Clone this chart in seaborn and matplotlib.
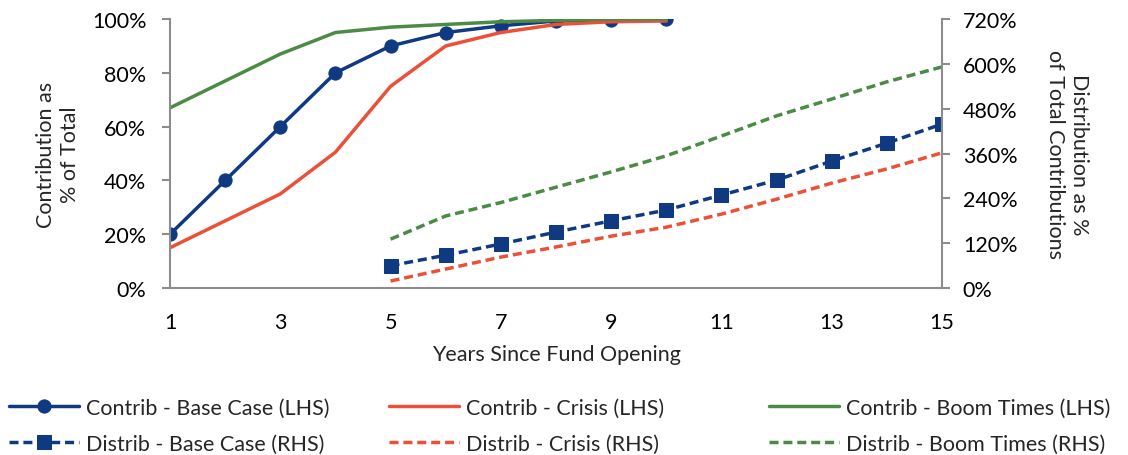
import numpy as np
import pandas as pd
import matplotlib
matplotlib.use("Agg")
import matplotlib.pyplot as plt
import seaborn as sns
from matplotlib.ticker import FuncFormatter

# --- data ---
contrib_years = [1, 2, 3, 4, 5, 6, 7, 8, 9, 10]
contrib_base = [20, 40, 60, 80, 90, 95, 97.5, 99.3, 99.7, 100]
contrib_crisis = [15, 25, 35, 50.5, 75, 90, 95, 98, 99, 99.3]
contrib_boom = [67, 77, 87, 95, 97, 98, 99, 99.5, 100, 100]

distrib_years = [5, 6, 7, 8, 9, 10, 11, 12, 13, 14, 15]
distrib_base = [60, 88, 118, 150, 180, 209, 249, 289, 340, 388, 439]
distrib_crisis = [19, 51, 83, 110, 139, 163, 198, 238, 281, 319, 362]
distrib_boom = [131, 193, 229, 270, 311, 354, 407, 461, 506, 552, 592]

x_ticks = [1, 3, 5, 7, 9, 11, 13, 15]

NAVY = "#0F3A82"
RED = "#EA5138"
GREEN = "#4B8B46"
GREY = "#8C8C8C"
FS = 15.5

sns.set_style("white")
plt.rcParams["font.family"] = ["Lato", "DejaVu Sans"]

contrib = pd.DataFrame({"year": contrib_years, "base": contrib_base,
                        "crisis": contrib_crisis, "boom": contrib_boom})
distrib = pd.DataFrame({"year": distrib_years, "base": distrib_base,
                        "crisis": distrib_crisis, "boom": distrib_boom})

fig = plt.figure(figsize=(11.28, 4.56), dpi=100)
ax = fig.add_axes([0.1507, 0.366, 0.6844, 0.59])
ax2 = ax.twinx()

lw = 2.5
dash = (0, (2.6, 1.4))
# right axis (distributions)
sns.lineplot(data=distrib, x="year", y="base", ax=ax2, color=NAVY, lw=lw,
             linestyle=dash, marker="s", markersize=9.5,
             markeredgecolor=NAVY, label="Distrib - Base Case (RHS)", legend=False)
sns.lineplot(data=distrib, x="year", y="crisis", ax=ax2, color=RED, lw=lw,
             linestyle=dash, label="Distrib - Crisis (RHS)", legend=False)
sns.lineplot(data=distrib, x="year", y="boom", ax=ax2, color=GREEN, lw=lw,
             linestyle=dash, label="Distrib - Boom Times (RHS)", legend=False)

# left axis (contributions)
sns.lineplot(data=contrib, x="year", y="base", ax=ax, color=NAVY, lw=lw,
             marker="o", markersize=9.5, markeredgecolor=NAVY,
             label="Contrib - Base Case (LHS)", legend=False)
sns.lineplot(data=contrib, x="year", y="crisis", ax=ax, color=RED, lw=lw,
             label="Contrib - Crisis (LHS)", legend=False)
sns.lineplot(data=contrib, x="year", y="boom", ax=ax, color=GREEN, lw=lw,
             label="Contrib - Boom Times (LHS)", legend=False)

ax.set_zorder(ax2.get_zorder() + 1)
ax.patch.set_visible(False)

ax.set_xlim(1, 15)
ax.set_ylim(0, 100)
ax2.set_ylim(0, 720)
ax.set_xticks(x_ticks)
ax.set_yticks(np.arange(0, 101, 20))
ax2.set_yticks(np.arange(0, 721, 120))
pct = FuncFormatter(lambda v, p: f"{v:.0f}%")
ax.yaxis.set_major_formatter(pct)
ax2.yaxis.set_major_formatter(pct)

for a in (ax, ax2):
    for s in a.spines.values():
        s.set_color(GREY)
        s.set_linewidth(1.5)
    a.spines["top"].set_visible(False)
    a.tick_params(axis="both", which="major", direction="out", length=6,
                  width=1.5, color=GREY, labelsize=FS, labelcolor="black")
ax.spines["right"].set_visible(False)
ax2.spines["left"].set_visible(False)
ax2.spines["bottom"].set_visible(False)
ax.tick_params(axis="x", pad=11)
ax.tick_params(axis="y", pad=11)
ax2.tick_params(axis="y", pad=9)

ax.set_xlabel("Years Since Fund Opening", fontsize=FS, labelpad=9)
ax.set_ylabel("Contribution as\n% of Total", fontsize=FS, ha="center", va="center")
ax.yaxis.set_label_coords(-0.145, 0.5)
ax2.set_ylabel("Distribution as %\nof Total Contributions", fontsize=FS,
               rotation=270, ha="center", va="center")
ax2.yaxis.set_label_coords(1.162, 0.5)

h1, l1 = ax.get_legend_handles_labels()
h2, l2 = ax2.get_legend_handles_labels()
col_x = [9, 389, 769]
for i, x0 in enumerate(col_x):
    leg = fig.legend([h1[i], h2[i]], [l1[i], l2[i]], loc="upper left",
                     bbox_to_anchor=(x0 / 1128, 1 - 399 / 456),
                     frameon=False, fontsize=FS, handlelength=3.25,
                     handletextpad=0.32, labelspacing=0.72,
                     borderpad=0, borderaxespad=0)

fig.savefig("out.png", dpi=100)
